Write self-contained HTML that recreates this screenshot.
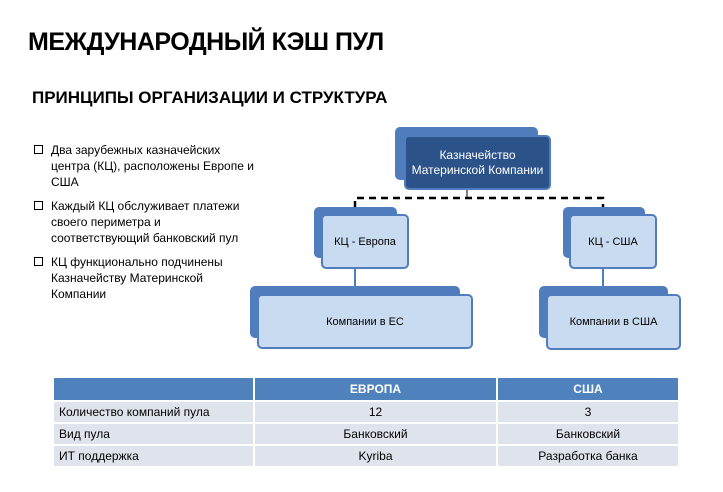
<!DOCTYPE html>
<html><head><meta charset="utf-8"><style>
body{margin:0;width:723px;height:492px;background:#fff;position:relative;overflow:hidden;font-family:"Liberation Sans",sans-serif;color:#000}
.a{position:absolute}
.h1{left:28px;top:28px;font-size:25px;font-weight:bold;letter-spacing:-0.5px}
.h2{left:32px;top:88px;font-size:17px;font-weight:bold}
.b{left:34px;font-size:12px;line-height:16px;width:232px}
.b span{position:absolute;left:0;top:3px;width:7px;height:7px;border:1px solid #000}
.b div{margin-left:17px}
.bk{position:absolute;background:#4f7dbd;border-radius:5px}
.fr{position:absolute;background:#c9dbf0;border:2px solid #4f7dbd;border-radius:5px;display:flex;align-items:center;justify-content:center;text-align:center;font-size:11px;box-sizing:border-box}
table{position:absolute;left:52px;top:376px;width:628px;border-collapse:collapse;font-size:12px}
td{border:2px solid #fff;height:20px;padding:0 5px;background:#dfe3eb}
th{background:#4f81bd;color:#fff;border:2px solid #fff;height:20px;font-size:12px}
</style></head><body>
<div class="a h1">МЕЖДУНАРОДНЫЙ КЭШ ПУЛ</div>
<div class="a h2">ПРИНЦИПЫ ОРГАНИЗАЦИИ И СТРУКТУРА</div>
<div class="a b" style="top:142px"><span></span><div>Два зарубежных казначейских<br>центра (КЦ), расположены Европе и<br>США</div></div>
<div class="a b" style="top:198px"><span></span><div>Каждый КЦ обслуживает платежи<br>своего периметра и<br>соответствующий банковский пул</div></div>
<div class="a b" style="top:254px"><span></span><div>КЦ функционально подчинены<br>Казначейству Материнской<br>Компании</div></div>
<svg class="a" style="left:0;top:0" width="723" height="492">
<line x1="467" y1="188" x2="467" y2="199" stroke="#000" stroke-width="1"/>
<path d="M355 208 V198 H603 V208" fill="none" stroke="#000" stroke-width="2.5" stroke-dasharray="7,5"/>
<line x1="355" y1="266" x2="355" y2="296" stroke="#4f7dbd" stroke-width="2"/>
<line x1="603" y1="266" x2="603" y2="296" stroke="#4f7dbd" stroke-width="2"/>
</svg>
<div class="bk" style="left:395px;top:127px;width:143px;height:53px"></div>
<div class="fr" style="left:404px;top:135px;width:147px;height:55px;background:#2b5289;border-color:#4f7dbd;color:#fff;font-size:12px;line-height:15px">Казначейство<br>Материнской Компании</div>
<div class="bk" style="left:314px;top:207px;width:83px;height:51px"></div>
<div class="fr" style="left:321px;top:214px;width:88px;height:55px">КЦ - Европа</div>
<div class="bk" style="left:563px;top:207px;width:82px;height:51px"></div>
<div class="fr" style="left:569px;top:214px;width:88px;height:55px">КЦ - США</div>
<div class="bk" style="left:250px;top:286px;width:210px;height:52px"></div>
<div class="fr" style="left:257px;top:294px;width:216px;height:55px">Компании в ЕС</div>
<div class="bk" style="left:539px;top:286px;width:129px;height:52px"></div>
<div class="fr" style="left:546px;top:294px;width:135px;height:56px">Компании в США</div>
<table>
<tr><th style="width:197px"></th><th>ЕВРОПА</th><th style="width:178px">США</th></tr>
<tr><td>Количество компаний пула</td><td align="center">12</td><td align="center">3</td></tr>
<tr><td>Вид пула</td><td align="center">Банковский</td><td align="center">Банковский</td></tr>
<tr><td>ИТ поддержка</td><td align="center">Kyriba</td><td align="center">Разработка банка</td></tr>
</table>
</body></html>
